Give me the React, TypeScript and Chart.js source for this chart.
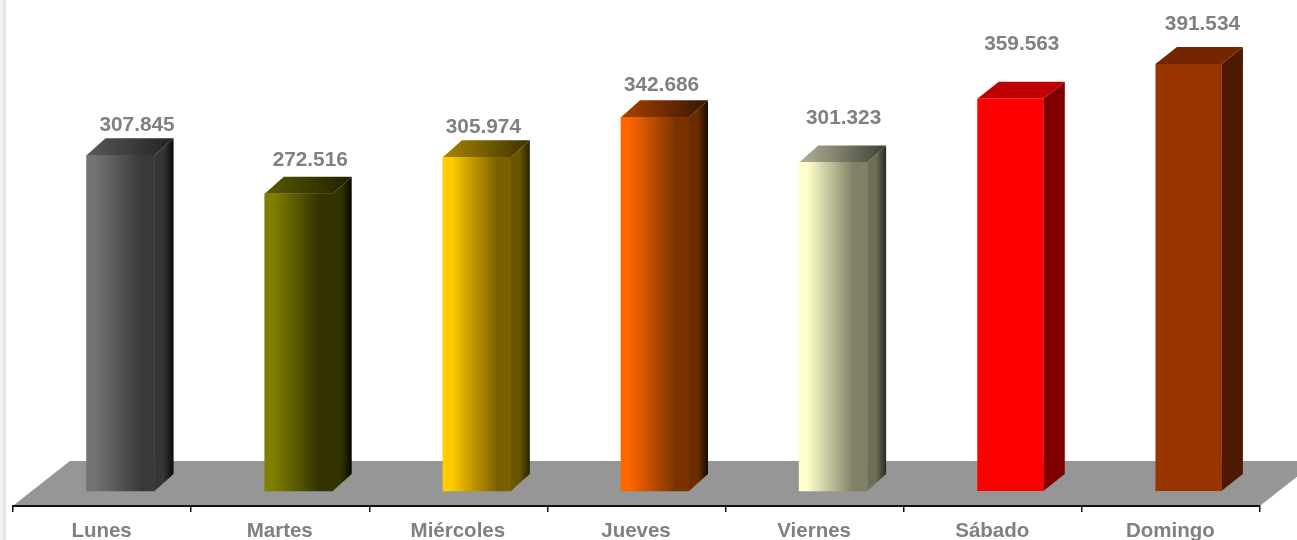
import React, { useEffect, useRef } from "react";
import { Chart, registerables } from "chart.js";

Chart.register(...registerables);

const categories = ["Lunes", "Martes", "Miércoles", "Jueves", "Viernes", "Sábado", "Domingo"];
const visitas = [307845, 272516, 305974, 342686, 301323, 359563, 391534];

const labelNudge = [
  [16.5, 30], [11.5, 34], [6.5, 30], [6.5, 32], [10.5, 44], [10.5, 55], [13, 40],
];
const frontColors = [
  ["#737373", "#3a3a3a"],
  ["#808000", "#333300"],
  ["#ffcc00", "#7a6000"],
  ["#ff6600", "#7a3300"],
  ["#ffffcc", "#808066"],
  ["#ff0000", "#ff0000"],
  ["#993300", "#993300"],
];
const sideColors = [
  ["#363636", "#0a0a0a"],
  ["#333300", "#050500"],
  ["#6a5500", "#2a2100"],
  ["#6b2d00", "#1a0a00"],
  ["#6e6e58", "#2a2a20"],
  ["#800000", "#800000"],
  ["#4d1900", "#4d1900"],
];
const topColors = [
  ["#585858", "#222222"],
  ["#5a5a00", "#1f1f00"],
  ["#a88600", "#3d3100"],
  ["#a84200", "#361500"],
  ["#b3b399", "#3f3f35"],
  ["#bf0000", "#bf0000"],
  ["#732600", "#732600"],
];

const SHIFT = 18.5;
const DEPTH_Y = 17;
const depthX = [19, 19, 19, 19, 19, 21.5, 21.5];
const rightInset = [0, 0, 0, 0, 0, 2, 2];

const threeD = {
  id: "threeD",
  beforeDatasetsDraw(chart: any) {
    const { ctx, chartArea, scales } = chart;
    const y0 = scales.y.getPixelForValue(0);
    const bottom = chartArea.bottom - 1;
    const top = y0 - 30;
    const rise = bottom - top;
    const run = rise * 1.27;
    ctx.save();
    ctx.fillStyle = "#969696";
    ctx.beginPath();
    ctx.moveTo(chartArea.left + 1, bottom);
    ctx.lineTo(chartArea.left + 1 + run, top);
    ctx.lineTo(chartArea.right + 1 + run, top);
    ctx.lineTo(chartArea.right + 1, bottom);
    ctx.closePath();
    ctx.fill();
    ctx.restore();
  },
  beforeDatasetDraw(chart: any) {
    const { ctx } = chart;
    const meta = chart.getDatasetMeta(0);
    ctx.save();
    ctx.translate(SHIFT, 0);
    meta.data.forEach((bar: any, i: number) => {
      const half = 34;
      const l = bar.x - half;
      const r = bar.x + half - rightInset[i];
      const t = bar.y;
      const b = bar.base;
      const dx = depthX[i];
      const side = ctx.createLinearGradient(r, 0, r + dx, 0);
      side.addColorStop(0, sideColors[i][0]);
      side.addColorStop(0.45, sideColors[i][0]);
      side.addColorStop(1, sideColors[i][1]);
      ctx.fillStyle = side;
      ctx.beginPath();
      ctx.moveTo(r, t);
      ctx.lineTo(r + dx, t - DEPTH_Y);
      ctx.lineTo(r + dx, b - DEPTH_Y);
      ctx.lineTo(r, b);
      ctx.closePath();
      ctx.fill();
      const topFace = ctx.createLinearGradient(l, 0, r + dx, 0);
      topFace.addColorStop(0, topColors[i][0]);
      topFace.addColorStop(1, topColors[i][1]);
      ctx.fillStyle = topFace;
      ctx.beginPath();
      ctx.moveTo(l, t);
      ctx.lineTo(l + dx, t - DEPTH_Y);
      ctx.lineTo(r + dx, t - DEPTH_Y);
      ctx.lineTo(r, t);
      ctx.closePath();
      ctx.fill();
    });
  },
  afterDatasetDraw(chart: any) {
    chart.ctx.restore();
  },
  afterDatasetsDraw(chart: any) {
    const { ctx } = chart;
    const meta = chart.getDatasetMeta(0);
    ctx.save();
    ctx.font = "bold 20.8px 'Liberation Sans'";
    ctx.fillStyle = "#808080";
    ctx.textAlign = "center";
    ctx.textBaseline = "middle";
    meta.data.forEach((bar: any, i: number) => {
      const text = visitas[i].toLocaleString("de-DE");
      ctx.fillText(text, bar.x + SHIFT + labelNudge[i][0], bar.y - labelNudge[i][1]);
    });
    ctx.restore();
  },
};

export default function App() {
  const ref = useRef<HTMLCanvasElement>(null);
  useEffect(() => {
    const chart = new Chart(ref.current!, {
      type: "bar",
      data: {
        labels: categories,
        datasets: [
          {
            data: visitas,
            barThickness: 68,
            borderColor: "rgba(0,0,0,0)",
            borderSkipped: false,
            borderWidth: (c: any) => ({ top: 0, bottom: 0, left: 0, right: rightInset[c.dataIndex] ?? 0 }),
            backgroundColor: (c: any) => {
              const colors = frontColors[c.dataIndex];
              if (!colors) return "#808080";
              const cx = c.chart.scales.x.getPixelForValue(c.dataIndex);
              if (!Number.isFinite(cx)) return colors[0];
              const g = c.chart.ctx.createLinearGradient(cx - 34, 0, cx + 34, 0);
              g.addColorStop(0, colors[0]);
              g.addColorStop(0.12, colors[0]);
              g.addColorStop(0.8, colors[1]);
              g.addColorStop(1, colors[1]);
              return g;
            },
          },
        ],
      },
      options: {
        animation: false,
        responsive: false,
        devicePixelRatio: 1,
        layout: { padding: { left: 13, right: 37, top: 0, bottom: 0 } },
        plugins: { legend: { display: false }, tooltip: { enabled: false } },
        scales: {
          x: {
            afterFit: (s: any) => { s.height = 34; },
            border: { color: "#111111", width: 2 },
            grid: { drawOnChartArea: false, color: "#111111", tickLength: 6, lineWidth: 1.5 },
            ticks: {
              color: "#808080",
              font: { family: "'Liberation Sans'", size: 20.5, weight: "bold" },
              padding: 7,
              labelOffset: -0.5,
              maxRotation: 0,
              autoSkip: false,
            },
          },
          y: { display: false, min: -13754, max: 450211 },
        },
      },
      plugins: [threeD],
    } as any);
    return () => chart.destroy();
  }, []);
  return (
    <div style={{ position: "fixed", inset: 0, background: "#fff", overflow: "hidden" }}>
      <div style={{ position: "absolute", left: 0, top: 0, width: 6, height: 540, background: "linear-gradient(to right, #f6f6f6, #ececec 60%, #dedede 90%, #ffffff)" }} />
      <canvas ref={ref} width={1297} height={540} style={{ position: "absolute", left: 0, top: 0, display: "block", filter: "blur(0.4px)" }} />
    </div>
  );
}
